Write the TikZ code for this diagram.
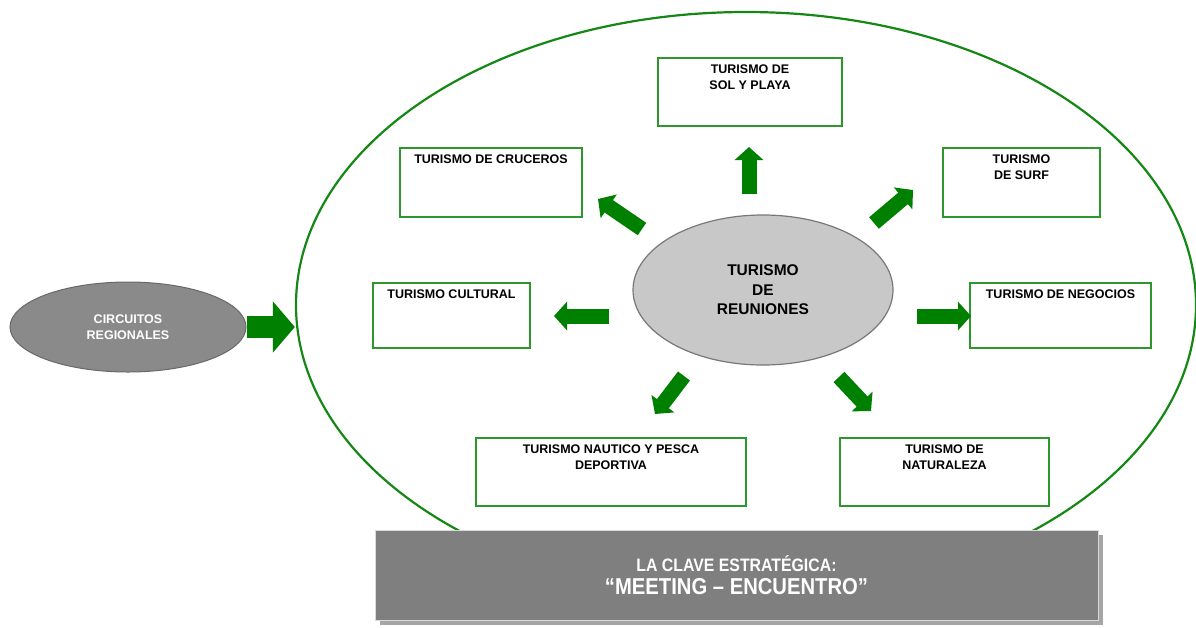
\documentclass[tikz,border=0pt]{standalone}
\usepackage{fontspec}
\setmainfont{Liberation Sans}
\newfontfamily\narrowfont[FakeStretch=0.88]{Liberation Sans}
\usetikzlibrary{arrows.meta,shapes.geometric,shadows}
\definecolor{grn}{RGB}{0,128,0}
\definecolor{boxgrn}{RGB}{45,150,45}
\definecolor{ringgrn}{RGB}{20,135,20}
\definecolor{centerfill}{RGB}{200,200,200}
\definecolor{centerdraw}{RGB}{120,120,120}
\definecolor{circfill}{RGB}{138,138,138}
\definecolor{circdraw}{RGB}{105,105,105}
\definecolor{clavefill}{RGB}{127,127,127}
\definecolor{shadowgray}{RGB}{165,165,165}
\tikzset{
  box/.style={draw=boxgrn, line width=1.6pt, fill=white, inner sep=0pt},
  boxtxt/.style={anchor=north, align=center, inner sep=0pt, font=\fontsize{12.5}{16.5}\selectfont\bfseries},
  barrow/.style={draw=grn, line width=15pt, -{Triangle[length=13pt,width=28pt]}},
  bigarrow/.style={draw=grn, line width=22pt, -{Triangle[length=22pt,width=50pt]}},
}
\begin{document}
\begin{tikzpicture}[x=1pt,y=-1pt]
\useasboundingbox (0,0) rectangle (1196,627);
% big ring
\node[ellipse, draw=ringgrn, line width=2.2pt, minimum width=900pt, minimum height=586pt, inner sep=0pt] (big) at (746,305) {};
% bottom key box
\node[fill=clavefill, draw=white!70!gray, line width=0.8pt, minimum width=723pt, minimum height=90pt, inner sep=0pt,
      drop shadow={shadow xshift=5pt, shadow yshift=-5pt, fill=shadowgray, opacity=1},
      text=white, align=center, font=\narrowfont\bfseries] (clave) at (736.5,575)
  {\fontsize{18}{21}\selectfont LA CLAVE ESTRATÉGICA:\\[6.5pt]\fontsize{23}{26}\selectfont “MEETING – ENCUENTRO”};
% centre
\node[ellipse, fill=centerfill, draw=centerdraw, line width=1.2pt, minimum width=260pt, minimum height=150pt, inner sep=0pt,
      align=center, font=\fontsize{15.5}{19.5}\selectfont\bfseries] (centre) at (763,290)
  {TURISMO\\DE\\REUNIONES};
% circuitos
\node[ellipse, fill=circfill, draw=circdraw, line width=1pt, minimum width=236pt, minimum height=90pt, inner sep=0pt,
      align=center, text=white, font=\fontsize{12.5}{15.5}\selectfont\bfseries] (circ) at (128,327)
  {CIRCUITOS\\REGIONALES};
\draw[bigarrow] (circ.east) -- (circ.east -| big.west);
% boxes
\node[box, minimum width=184pt, minimum height=68pt] (sol) at (750,92) {};
\node[boxtxt] at ([yshift=-7pt]sol.north) {TURISMO DE\\SOL Y PLAYA};
\node[box, minimum width=182pt, minimum height=69pt] (cru) at (491,182.5) {};
\node[boxtxt] at ([yshift=-7pt]cru.north) {TURISMO DE CRUCEROS};
\node[box, minimum width=157pt, minimum height=69pt] (surf) at (1021.5,182.5) {};
\node[boxtxt] at ([yshift=-7pt]surf.north) {TURISMO\\DE SURF};
\node[box, minimum width=157pt, minimum height=65pt] (cult) at (451.5,315.5) {};
\node[boxtxt] at ([yshift=-7pt]cult.north) {TURISMO CULTURAL};
\node[box, minimum width=181pt, minimum height=65pt] (neg) at (1060.5,315.5) {};
\node[boxtxt] at ([yshift=-7pt]neg.north) {TURISMO DE NEGOCIOS};
\node[box, minimum width=270pt, minimum height=68pt] (nau) at (611,472) {};
\node[boxtxt] at ([yshift=-7pt]nau.north) {TURISMO NAUTICO Y PESCA\\DEPORTIVA};
\node[box, minimum width=209pt, minimum height=68pt] (nat) at (944.5,472) {};
\node[boxtxt] at ([yshift=-7pt]nat.north) {TURISMO DE\\NATURALEZA};
% arrow end points
\coordinate (aUt) at (749,194);  \coordinate (aUh) at (749,147);
\coordinate (aLt) at (609,316);  \coordinate (aLh) at (554,316);
\coordinate (aRt) at (917,316);  \coordinate (aRh) at (971,316);
\coordinate (aULt) at (642,229); \coordinate (aULh) at (598,199);
\coordinate (aURt) at (874,223); \coordinate (aURh) at (913,190);
\coordinate (aDLt) at (684,376); \coordinate (aDLh) at (655,414);
\coordinate (aDRt) at (839,377); \coordinate (aDRh) at (871,411);
\draw[barrow] (aUt) -- (aUh);
\draw[barrow] (aLt) -- (aLh);
\draw[barrow] (aRt) -- (aRh);
\draw[barrow] (aULt) -- (aULh);
\draw[barrow] (aURt) -- (aURh);
\draw[barrow] (aDLt) -- (aDLh);
\draw[barrow] (aDRt) -- (aDRh);
\end{tikzpicture}
\end{document}
